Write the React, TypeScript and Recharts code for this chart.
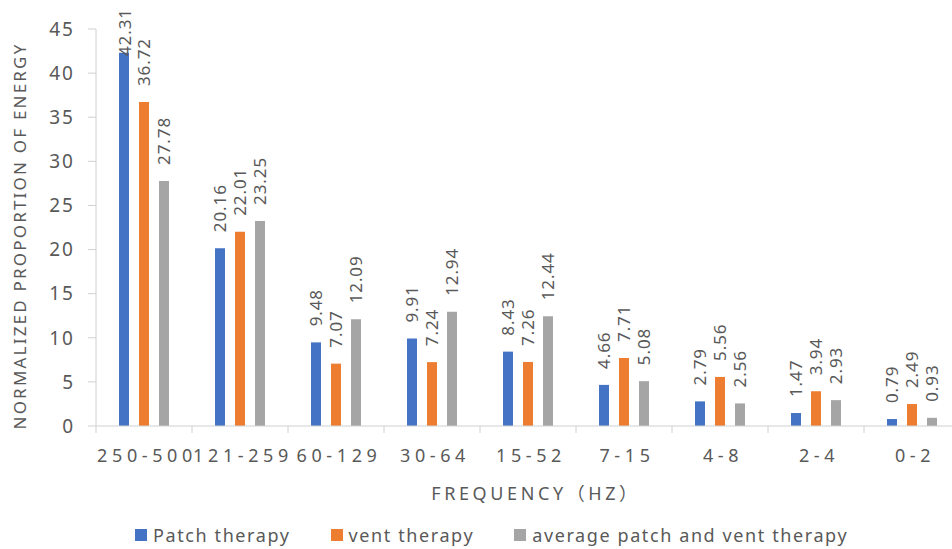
import { BarChart, Bar, XAxis, YAxis, LabelList } from 'recharts';

const bands = ['250-500', '121-259', '60-129', '30-64', '15-52', '7-15', '4-8', '2-4', '0-2'];
const patch = [42.31, 20.16, 9.48, 9.91, 8.43, 4.66, 2.79, 1.47, 0.79];
const vent = [36.72, 22.01, 7.07, 7.24, 7.26, 7.71, 5.56, 3.94, 2.49];
const average = [27.78, 23.25, 12.09, 12.94, 12.44, 5.08, 2.56, 2.93, 0.93];
const yTicks = [0, 5, 10, 15, 20, 25, 30, 35, 40, 45];

const series = [
  { key: 'patch', name: 'Patch therapy', color: '#4472C4' },
  { key: 'vent', name: 'vent therapy', color: '#ED7D31' },
  { key: 'average', name: 'average patch and vent therapy', color: '#A5A5A5' },
];

const data = bands.map((band, i) => ({
  band,
  patch: patch[i],
  vent: vent[i],
  average: average[i],
}));

const TEXT = '#595959';
const AXIS = '#d0d0d0';
const FONT = '"Noto Sans", "Noto Sans CJK SC", sans-serif';
const BAND = 96;

// value label standing upright above each bar, pushed down if it would leave the top
const ValueLabel = (props: any) => {
  const { x, y, width, value } = props;
  const cx = x + width / 2;
  const len = String(value).length * 9.6;
  const y0 = Math.max(y - 16, 8 + len);
  return (
    <text
      x={cx}
      y={y0}
      transform={`rotate(-90 ${cx} ${y0})`}
      textAnchor="start"
      dominantBaseline="central"
      fill={TEXT}
      fontSize={17}
      letterSpacing={0.9}
      fontFamily={FONT}
    >
      {value}
    </text>
  );
};

// category label plus separator tick marks at the band edges
const BandTick = (props: any) => {
  const { x, y, payload, index } = props;
  const left = x - BAND / 2;
  return (
    <g>
      <line x1={left} x2={left} y1={y - 7} y2={y} stroke={AXIS} />
      {index === bands.length - 1 && (
        <line x1={left + BAND} x2={left + BAND} y1={y - 7} y2={y} stroke={AXIS} />
      )}
      <text
        x={x + 3}
        y={y + 22}
        textAnchor="middle"
        dominantBaseline="central"
        fill={TEXT}
        fontSize={18}
        letterSpacing={4.6}
        fontFamily={FONT}
      >
        {payload.value}
      </text>
    </g>
  );
};

export default function App() {
  return (
    <div
      style={{
        position: 'absolute',
        left: 0,
        top: 0,
        width: 952,
        height: 549,
        overflow: 'hidden',
        background: '#fff',
        fontFamily: FONT,
      }}
    >
      <BarChart
        width={970}
        height={549}
        data={data}
        margin={{ top: 29, right: 10, bottom: 0, left: 0 }}
        barSize={10}
        barGap={10}
      >
        <XAxis
          dataKey="band"
          height={123}
          axisLine={{ stroke: AXIS }}
          tickLine={false}
          tickSize={7}
          tickMargin={0}
          tick={<BandTick />}
          interval={0}
        />
        <YAxis
          width={96}
          domain={[0, 45]}
          ticks={yTicks}
          interval={0}
          axisLine={{ stroke: AXIS }}
          tickLine={{ stroke: AXIS }}
          tickSize={8}
          tickMargin={13}
          tick={{ fill: TEXT, fontSize: 19, letterSpacing: 2, fontFamily: FONT }}
        />
        {series.map((s) => (
          <Bar key={s.key} dataKey={s.key} name={s.name} fill={s.color} isAnimationActive={false}>
            <LabelList dataKey={s.key} content={<ValueLabel />} />
          </Bar>
        ))}
      </BarChart>

      <div
        style={{
          position: 'absolute',
          left: 19,
          top: 236,
          transform: 'translate(-50%, -50%) rotate(-90deg)',
          whiteSpace: 'nowrap',
          color: TEXT,
          fontSize: 17,
          letterSpacing: 2.2,
        }}
      >
        NORMALIZED PROPORTION OF ENERGY
      </div>

      <div
        style={{
          position: 'absolute',
          left: 536,
          top: 492,
          transform: 'translate(-50%, -50%)',
          whiteSpace: 'nowrap',
          color: TEXT,
          fontSize: 18,
          letterSpacing: 3.6,
        }}
      >
        FREQUENCY（HZ）
      </div>

      <div
        style={{
          position: 'absolute',
          left: 135,
          top: 524,
          display: 'flex',
          gap: 40,
          alignItems: 'center',
          whiteSpace: 'nowrap',
        }}
      >
        {series.map((s) => (
          <div key={s.key} style={{ display: 'flex', alignItems: 'center' }}>
            <span style={{ width: 12, height: 12, background: s.color, marginRight: 6 }} />
            <span style={{ color: TEXT, fontSize: 18, letterSpacing: 1.6, lineHeight: '22px' }}>
              {s.name}
            </span>
          </div>
        ))}
      </div>
    </div>
  );
}
